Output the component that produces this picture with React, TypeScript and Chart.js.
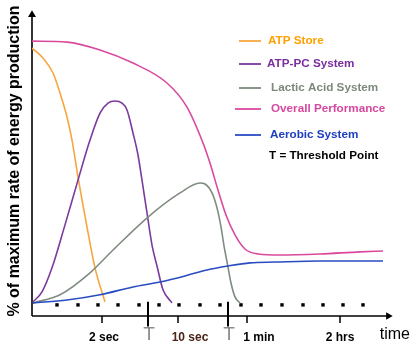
import React, { useEffect, useRef } from "react";
import { Chart, registerables } from "chart.js";

Chart.register(...registerables);

// ---- data (x: time units along the axis, y: % of maximum rate) ----
const atpStoreX = [0, 11, 21, 28, 35, 40, 46, 55, 63, 73];
const atpStoreY = [97.3, 93.5, 87.8, 80.2, 71.0, 62.2, 48.1, 29.0, 13.4, 0.4];

const atpPcX = [1, 10, 20, 33, 46, 58, 68, 76, 83, 90, 95, 101, 106, 110, 115, 120, 125, 131, 140];
const atpPcY = [0.4, 4.2, 13.4, 29.8, 46.9, 62.2, 72.5, 76.3, 77.1, 76.3, 73.7, 64.9, 56.5, 46.9, 34.4, 22.1, 14.1, 5.0, 0];

const lacticX = [1, 28, 58, 81, 116, 148, 168, 173, 180, 185, 189, 192, 196, 199, 203, 208];
const lacticY = [0, 3.1, 11.5, 20.2, 32.8, 42.0, 45.8, 45.4, 42.0, 36.3, 29.0, 21.8, 13.7, 7.6, 2.3, 0];

const overallX = [0, 35, 68, 101, 135, 155, 171, 178, 186, 194, 203, 213, 226, 248, 288, 328, 351];
const overallY = [100, 99.6, 96.6, 91.6, 84.0, 74.8, 61.1, 53.4, 43.1, 33.6, 26.0, 20.6, 18.7, 18.3, 18.7, 19.5, 19.8];

const aerobicX = [1, 35, 68, 101, 128, 153, 175, 196, 218, 243, 288, 351];
const aerobicY = [0, 1.1, 3.1, 6.1, 8.0, 10.3, 12.6, 14.1, 15.3, 15.6, 16.0, 16.0];

const dotX = [25, 46, 66, 86, 107, 127, 147, 168, 188, 209, 229, 250, 271, 291, 311, 331];
const dotY = -0.76;

const thresholdX = [116, 196];
const markX = [70, 146, 215, 308];

const tickLabelX = [72, 117, 158, 197, 227, 308];
const tickLabels = ["2 sec", "T", "10 sec", "T", "1 min", "2 hrs"];
const tickLabelColors = ["#000000", "#8a8a8a", "#4a2418", "#8a8a8a", "#000000", "#000000"];

const seriesNames = ["ATP Store", "ATP-PC System", "Lactic Acid System", "Overall Performance", "Aerobic System"];
const seriesColors = ["#f6a640", "#7b3a9e", "#7f8c7f", "#d94a9e", "#2a4cc2"];
const legendTextColors = ["#ffa000", "#7a2e9e", "#7c897c", "#d6489e", "#1e40c0"];
const noteText = "T = Threshold Point";

const axisMin = -5;
const axisMax = 113.4;
const xMax = 378;

const FONT = "'Liberation Sans', Arial, Helvetica, sans-serif";

const zip = (xs: number[], ys: number[]) => xs.map((x, i) => ({ x, y: ys[i] }));

const legendPlugin = {
  id: "customLegend",
  afterDraw(chart: any) {
    const ctx = chart.ctx as CanvasRenderingContext2D;
    const rowsY = [41, 64, 88, 109, 135];
    const lineStart = [239, 239, 239, 235, 235];
    const lineEnd = 261;
    const textX = [268, 267, 271, 271, 270];
    ctx.save();
    ctx.font = `bold 11.7px ${FONT}`;
    ctx.textBaseline = "middle";
    ctx.textAlign = "left";
    seriesNames.forEach((name, i) => {
      ctx.strokeStyle = seriesColors[i];
      ctx.lineWidth = 1.8;
      ctx.beginPath();
      ctx.moveTo(lineStart[i], rowsY[i]);
      ctx.lineTo(lineEnd, rowsY[i]);
      ctx.stroke();
      ctx.fillStyle = legendTextColors[i];
      ctx.fillText(name, textX[i], rowsY[i]);
    });
    ctx.fillStyle = "#000";
    ctx.fillText(noteText, 269, 156);
    ctx.restore();
  },
};

export default function App() {
  const ref = useRef<HTMLCanvasElement | null>(null);

  useEffect(() => {
    if (!ref.current) return;
    Chart.defaults.font.family = FONT;
    const curve = (label: string, i: number, xs: number[], ys: number[]) => ({
      label,
      data: zip(xs, ys),
      borderColor: seriesColors[i],
      backgroundColor: seriesColors[i],
      borderWidth: 1.6,
      pointRadius: 0,
      cubicInterpolationMode: "monotone" as const,
      fill: false,
    });
    const segs = (xs: number[], y0: number, y1: number) => {
      const out: any[] = [];
      xs.forEach((x) => {
        out.push({ x, y: y0 }, { x, y: y1 }, { x, y: null });
      });
      return out;
    };
    const chart = new Chart(ref.current, {
      type: "line",
      data: {
        datasets: [
          curve(seriesNames[3], 3, overallX, overallY),
          curve(seriesNames[4], 4, aerobicX, aerobicY),
          curve(seriesNames[2], 2, lacticX, lacticY),
          curve(seriesNames[1], 1, atpPcX, atpPcY),
          curve(seriesNames[0], 0, atpStoreX, atpStoreY),
          {
            label: "dots",
            data: dotX.map((x) => ({ x, y: dotY })),
            showLine: false,
            pointStyle: "rect",
            pointRadius: 2.4,
            pointBackgroundColor: "#000",
            pointBorderWidth: 0,
            borderColor: "#000",
            clip: false,
          },
          {
            label: "y axis",
            data: [{ x: 0, y: axisMin }, { x: 0, y: 110 }],
            borderColor: "#000",
            borderWidth: 1.6,
            pointRadius: 0,
            clip: false,
          },
          {
            label: "y arrow",
            data: [{ x: 0, y: 110.05 }],
            showLine: false,
            pointStyle: "triangle",
            pointRadius: 4.6,
            pointBackgroundColor: "#000",
            pointBorderWidth: 0,
            clip: false,
          },
          {
            label: "x axis",
            data: [{ x: 0, y: axisMin }, { x: 356, y: axisMin }],
            borderColor: "#000",
            borderWidth: 1.6,
            pointRadius: 0,
            clip: false,
          },
          {
            label: "x arrow",
            data: [{ x: 356.3, y: axisMin }],
            showLine: false,
            pointStyle: "triangle",
            rotation: 90,
            pointRadius: 4.4,
            pointBackgroundColor: "#000",
            pointBorderWidth: 0,
            clip: false,
          },
          {
            label: "threshold marks",
            data: segs(thresholdX, 0.4, -9),
            borderColor: "#000",
            borderWidth: 2,
            pointRadius: 0,
            spanGaps: false,
            clip: false,
          },
          {
            label: "tick marks",
            data: segs(markX, axisMin, -7.7),
            borderColor: "#000",
            borderWidth: 1.5,
            pointRadius: 0,
            spanGaps: false,
            clip: false,
          },
        ] as any,
      },
      options: {
        responsive: false,
        animation: false,
        layout: { padding: { left: 0, right: 6, top: 6, bottom: 0 } },
        plugins: { legend: { display: false }, tooltip: { enabled: false } },
        scales: {
          x: {
            type: "linear",
            min: 0,
            max: xMax,
            position: "bottom",
            grid: { display: false, drawTicks: false },
            border: { display: false },
            afterBuildTicks: (axis: any) => {
              axis.ticks = tickLabelX.map((v) => ({ value: v }));
            },
            afterFit: (axis: any) => {
              axis.height = 42;
            },
            ticks: {
              autoSkip: false,
              maxRotation: 0,
              minRotation: 0,
              padding: 14,
              callback: (_v: any, i: number) => tickLabels[i],
              color: (c: any) => tickLabelColors[c.index] || "#000",
              font: (c: any) =>
                tickLabels[c.index] === "T"
                  ? { family: FONT, size: 19, weight: "normal", lineHeight: "10px" }
                  : { family: FONT, size: 12, weight: "bold" },
            },
            title: {
              display: true,
              text: "time",
              align: "end",
              color: "#000",
              font: { family: FONT, size: 16, weight: "normal" },
              padding: { top: 0, bottom: 14 },
            },
          },
          y: {
            type: "linear",
            min: axisMin,
            max: axisMax,
            grid: { display: false, drawTicks: false },
            border: { display: false },
            ticks: { display: false },
            afterFit: (axis: any) => {
              axis.width = 32;
            },
            title: {
              display: true,
              text: "% of maximum rate of energy production",
              color: "#000",
              font: { family: FONT, size: 16, weight: "bold" },
              padding: { top: 5, bottom: 0 },
            },
          },
        },
      } as any,
      plugins: [legendPlugin],
    });
    return () => chart.destroy();
  }, []);

  return (
    <div style={{ position: "fixed", left: 0, top: 0, width: 416, height: 358, background: "#fff" }}>
      <canvas ref={ref} width={416} height={358} style={{ display: "block" }} />
    </div>
  );
}
